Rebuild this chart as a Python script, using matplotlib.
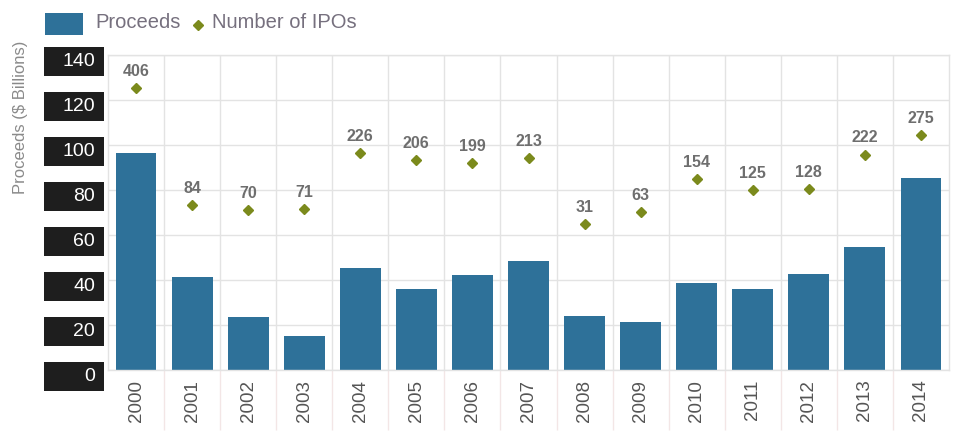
import matplotlib.pyplot as plt
from matplotlib.patches import Rectangle
from matplotlib.lines import Line2D

plt.rcParams['font.family'] = ['Liberation Sans', 'DejaVu Sans']

years = ['2000', '2001', '2002', '2003', '2004', '2005', '2006', '2007',
         '2008', '2009', '2010', '2011', '2012', '2013', '2014']
proceeds = [96.6, 41.2, 23.4, 15.1, 45.5, 36.0, 42.4, 48.6,
            24.0, 21.3, 38.7, 36.0, 42.7, 54.7, 85.3]
num_ipos = [406, 84, 70, 71, 226, 206, 199, 213, 31, 63, 154, 125, 128, 222, 275]
y_ticks = [0, 20, 40, 60, 80, 100, 120, 140]

bar_color = '#2e7199'
dot_color = '#7b8a1c'
grid_color = '#e3e3e3'
text_gray = '#6e6e6e'

fig = plt.figure(figsize=(9.55, 4.37), dpi=100)
ax = fig.add_axes([108 / 955, 67 / 437, 841 / 955, 315 / 437])

x = list(range(len(years)))
ax.bar(x, proceeds, width=0.73, color=bar_color, zorder=2)
ax.set_xlim(-0.5, len(years) - 0.5)
ax.set_ylim(0, 140)

# grid: horizontal at ticks, vertical at category boundaries
ax.set_yticks(y_ticks)
ax.yaxis.grid(True, color=grid_color, linewidth=1, zorder=0)
bounds = [i + 0.5 for i in x[:-1]]
ax.vlines(bounds, 0, 1, transform=ax.get_xaxis_transform(), color=grid_color,
          linewidth=1, zorder=0)
ax.vlines(bounds, -0.19, 0, transform=ax.get_xaxis_transform(), color='#f3e6e6',
          linewidth=1, zorder=0, clip_on=False)
ax.set_axisbelow(True)
for s in ax.spines.values():
    s.set_color(grid_color)
    s.set_linewidth(1)

ax.set_xticks(x)
ax.set_xticklabels(years, rotation=90, fontsize=13.5, color='#555555')
ax.tick_params(axis='x', length=0, pad=7)
ax.tick_params(axis='y', length=0, labelleft=False)

# y tick labels as black boxes
ytrans = ax.get_yaxis_transform()
for t in y_ticks:
    ax.add_patch(Rectangle((-0.0761, t - 2.7 - 6.45), 0.0713, 12.9, transform=ytrans,
                           facecolor='#1e1e1e', edgecolor='none', clip_on=False))
    ax.text(-0.0155, t - 2.7, str(t), transform=ytrans, ha='right', va='center',
            fontsize=14, color='white', clip_on=False)

fig.text(20 / 955, 1 - 117 / 437, 'Proceeds ($ Billions)', rotation=90,
         ha='center', va='center', fontsize=12, color='#8a8a8a')

# number of IPOs on hidden secondary scale
ax2 = ax.twinx()
ax2.set_ylim(-371, 496)
ax2.axis('off')
ax2.plot(x, num_ipos, linestyle='none', marker='D', markersize=5.5,
         color=dot_color, zorder=3)
for xi, n in zip(x, num_ipos):
    ax2.annotate(str(n), (xi, n), xytext=(0, 12), textcoords='offset points',
                 ha='center', va='center', fontsize=11.5, fontweight='bold',
                 color=text_gray)

# legend
fig.add_artist(Rectangle((45 / 955, 1 - 35 / 437), 38 / 955, 22 / 437,
                         transform=fig.transFigure, facecolor=bar_color,
                         edgecolor='none'))
fig.text(95 / 955, 1 - 23 / 437, 'Proceeds', ha='left', va='center',
         fontsize=14.5, color='#76707e')
fig.add_artist(Line2D([198 / 955], [1 - 25 / 437], transform=fig.transFigure,
                      marker='D', markersize=5, color=dot_color, linestyle='none'))
fig.text(212 / 955, 1 - 23 / 437, 'Number of IPOs', ha='left', va='center',
         fontsize=14.5, color='#76707e')

fig.savefig('out.png', dpi=100)
